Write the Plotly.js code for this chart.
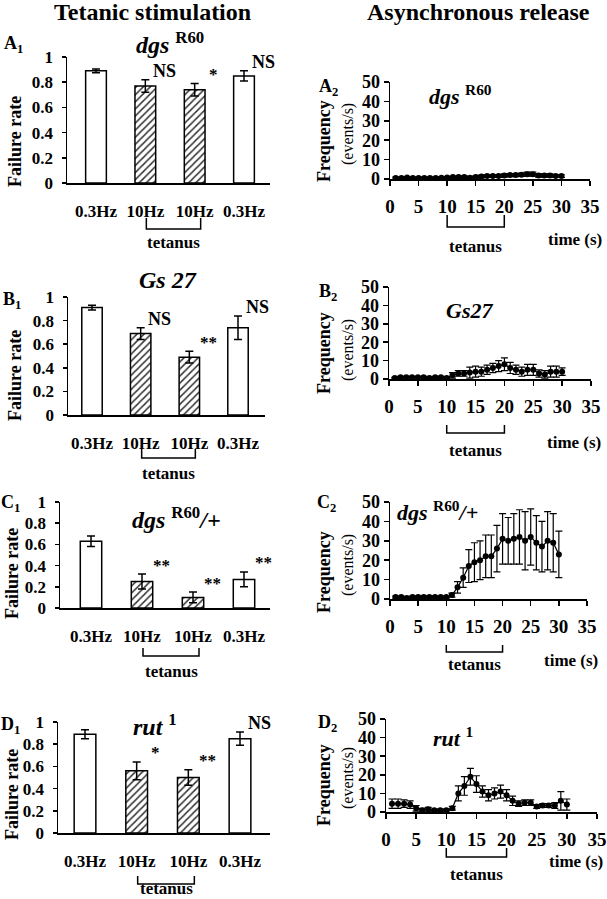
<!DOCTYPE html>
<html><head><meta charset="utf-8">
<script src="https://cdn.plot.ly/plotly-3.0.1.min.js"></script>
<style>html,body{margin:0;padding:0;background:#fff}</style>
</head><body><div id="chart" style="width:607px;height:899px"></div>
<script>
// ---------------- data ----------------
const barLabels = ['0.3Hz', '10Hz', '10Hz', '0.3Hz'];
const barPattern = ['', '/', '/', ''];
const tetanusBars = [1, 2];

const dgsFail = [0.89, 0.77, 0.74, 0.85];
const dgsFailErr = [0.015, 0.05, 0.05, 0.04];
const dgsSig = ['', 'NS', '*', 'NS'];

const gsFail = [0.91, 0.69, 0.49, 0.74];
const gsFailErr = [0.02, 0.05, 0.05, 0.10];
const gsSig = ['', 'NS', '**', 'NS'];

const hetFail = [0.63, 0.25, 0.10, 0.27];
const hetFailErr = [0.05, 0.07, 0.05, 0.07];
const hetSig = ['', '**', '**', '**'];

const rutFail = [0.89, 0.56, 0.50, 0.85];
const rutFailErr = [0.04, 0.08, 0.07, 0.06];
const rutSig = ['', '*', '**', 'NS'];

const timeS = [1,2,3,4,5,6,7,8,9,10,11,12,13,14,15,16,17,18,19,20,21,22,23,24,25,26,27,28,29,30];
const dgsFreq    = [0.5,0.5,0.8,0.5,0.5,0.5,0.5,0.5,0.6,0.8,1.0,1.0,1.0,0.7,1.0,1.3,1.5,1.5,1.5,1.8,2.0,2.0,2.2,2.5,2.5,1.8,1.8,1.8,1.5,1.5];
const dgsFreqErr = [0.5,0.5,0.5,0.5,0.5,0.5,0.5,0.5,0.5,0.5,0.5,0.5,0.6,0.6,0.6,0.7,0.7,0.7,0.7,0.8,0.8,0.8,0.9,1.0,1.0,0.8,0.8,0.8,0.7,0.7];
const gsFreq     = [0.5,1,1,1,1,1,0.5,1,1,0.5,2,3,3,3.5,4,4,5,6,7,8,6,5,4,5,5,3,2.5,4,4,4];
const gsFreqErr  = [0.4,0.4,0.4,0.4,0.4,0.4,0.4,0.4,0.4,0.4,1.5,1.5,1.5,3,3,2.5,2.5,2.5,3,3.5,3,2.5,2.5,3,3,2,2,3,3,2];
const hetFreq    = [1,1,0.5,1,1,1,1,1,1,1,2,6,11,17,19,20,22,22,26,31,30,31,32,30,32,29,27,30,29,23];
const hetFreqErr = [0.5,0.5,0.5,0.5,0.5,0.5,0.5,0.5,0.5,0.5,1,3,5,8.5,10,10,11,11,12,13,12,13,14,15,14.5,14,13,15,15,12];
const rutFreq    = [4.5,4.5,4.5,4,2,1,1.5,1,1,1,2,10,14,19,15,11,9,10,11,9,6,4.5,5,5,3,3.5,3.5,3.5,6,4];
const rutFreqErr = [2.5,2.5,2,2,1.5,1,1,0.5,0.5,0.5,1,4,5,4.5,4.5,3,3,3,3.5,3,2.5,1.5,1.5,1.5,1,1,1,1.5,5,3];
const tetanusTime = [10, 20];

// ---------------- layout helpers ----------------
const W = 607, H = 899;
const FONT = 'Liberation Serif, Times New Roman, serif';
const px = v => v / W;
const py = v => 1 - v / H;

const leftPanels = [
  {name:'A', fail:dgsFail, err:dgsFailErr, sig:dgsSig, gene:'<b><i>dgs</i> <sup>R60</sup></b>',
   x0:67, x1:270, top:57, bottom:183, c0:96, c3:244, label:[13,44], geneXY:[170,43], ytitle:[15,142],
   brTop:218, brBot:229, tet:242},
  {name:'B', fail:gsFail, err:gsFailErr, sig:gsSig, gene:'<b><i>Gs 27</i></b>',
   x0:68, x1:265, top:297, bottom:415, c0:92, c3:238, label:[12,301], geneXY:[168,280], ytitle:[15,376],
   brTop:449, brBot:458, tet:473},
  {name:'C', fail:hetFail, err:hetFailErr, sig:hetSig, gene:'<b><i>dgs</i> <sup>R60</sup><i>/+</i></b>',
   x0:60, x1:270, top:502, bottom:608, c0:91, c3:244, label:[10,503], geneXY:[176,518], ytitle:[12,574],
   brTop:648, brBot:656, tet:671},
  {name:'D', fail:rutFail, err:rutFailErr, sig:rutSig, gene:'<b><i>rut</i> <sup>1</sup></b>',
   x0:58, x1:270, top:722, bottom:833, c0:85, c3:240, label:[10,725], geneXY:[155,725], ytitle:[12,795],
   brTop:876, brBot:884, tet:888}
];
const rightPanels = [
  {name:'A', f:dgsFreq, e:dgsFreqErr, gene:'<b><i>dgs</i> <sup>R60</sup></b>',
   x0:390, x1:590, top:82, bottom:179, label:[328,88], geneXY:[460,95], yt:[324,141], yt2:[348,134],
   brTop:215, brBot:227, tet:246, time:[575,240]},
  {name:'B', f:gsFreq, e:gsFreqErr, gene:'<b><i>Gs27</i></b>',
   x0:389, x1:591, top:287, bottom:379, label:[328,292], geneXY:[469,311], yt:[324,353], yt2:[348,350],
   brTop:425, brBot:433, tet:450, time:[574,442]},
  {name:'C', f:hetFreq, e:hetFreqErr, gene:'<b><i>dgs</i> <sup>R60</sup><i>/+</i></b>',
   x0:390, x1:587, top:502, bottom:599, label:[326,503], geneXY:[437,511], yt:[324,572], yt2:[348,565],
   brTop:645, brBot:652, tet:664, time:[571,660]},
  {name:'D', f:rutFreq, e:rutFreqErr, gene:'<b><i>rut</i> <sup>1</sup></b>',
   x0:386, x1:597, top:719, bottom:812, label:[327,723], geneXY:[453,737], yt:[324,785], yt2:[348,778],
   brTop:848, brBot:857, tet:874, time:[576,861]}
];

const data = [];
const layout = {
  width: W, height: H, margin: {l:0, r:0, t:0, b:0},
  paper_bgcolor: '#fff', plot_bgcolor: 'rgba(0,0,0,0)',
  showlegend: false, font: {family: FONT, color: '#000'},
  annotations: [], shapes: []
};

function ann(text, x, y, size, extra) {
  layout.annotations.push(Object.assign({
    text: text, x: px(x), y: py(y), xref: 'paper', yref: 'paper',
    xanchor: 'center', yanchor: 'middle', showarrow: false,
    font: {family: FONT, size: size, color: '#000'}
  }, extra || {}));
}
function bracket(xa, xb, top, bot) {
  layout.shapes.push({type: 'path', xref: 'paper', yref: 'paper',
    path: `M ${px(xa)},${py(top)} L ${px(xa)},${py(bot)} L ${px(xb)},${py(bot)} L ${px(xb)},${py(top)}`,
    line: {color: '#000', width: 1.5}});
}

ann('<b>Tetanic stimulation</b>', 152, 12, 24);
ann('<b>Asynchronous release</b>', 478, 12, 24);

leftPanels.forEach((p, k) => {
  const n = 2 * k + 1;
  const xa = 'x' + n, ya = 'y' + n;
  const s = (p.c3 - p.c0) / 3;
  const toPx = i => p.c0 + i * s;
  data.push({
    type: 'bar', x: [0, 1, 2, 3], y: p.fail, xaxis: xa, yaxis: ya, width: 0.42,
    marker: {color: '#fff', line: {color: '#000', width: 1.5},
      pattern: {shape: barPattern, fgcolor: '#333', bgcolor: '#fff', size: 5, solidity: 0.3}},
    error_y: {type: 'data', array: p.err, visible: true, color: '#000', thickness: 1.5, width: 4}
  });
  layout['xaxis' + n] = {
    domain: [px(p.x0), px(p.x1)], anchor: ya, range: [(p.x0 - p.c0) / s, (p.x1 - p.c0) / s],
    showline: true, linecolor: '#000', linewidth: 1.5, ticks: '', showgrid: false, zeroline: false,
    tickvals: [0, 1, 2, 3], ticktext: barLabels, ticklabelstandoff: 12,
    tickfont: {family: FONT, size: 17, color: '#000', weight: 'bold'}
  };
  layout['yaxis' + n] = {
    domain: [py(p.bottom), py(p.top)], anchor: xa, range: [0, 1], dtick: 0.2,
    showline: true, linecolor: '#000', linewidth: 1.5, ticks: 'outside', ticklen: 4, tickwidth: 1.5,
    tickcolor: '#000', showgrid: false, zeroline: false, ticklabelstandoff: 5,
    tickfont: {family: FONT, size: 17, color: '#000', weight: 'bold'}
  };
  p.sig.forEach((t, i) => {
    if (!t) return;
    layout.annotations.push({text: '<b>' + t + '</b>', x: i, y: p.fail[i] + p.err[i], xref: xa, yref: ya,
      xanchor: 'center', yanchor: 'middle', xshift: 19, yshift: 9, showarrow: false,
      font: {family: FONT, size: t === 'NS' ? 18 : 17, color: '#000'}});
  });
  ann('<b>' + p.name + '<sub>1</sub></b>', p.label[0], p.label[1], 18);
  ann(p.gene, p.geneXY[0], p.geneXY[1], 24);
  ann('<b>Failure rate</b>', p.ytitle[0], p.ytitle[1], 18, {textangle: -90});
  const bx0 = toPx(tetanusBars[0]) + 1, bx1 = toPx(tetanusBars[1]) + 6;
  bracket(bx0, bx1, p.brTop, p.brBot);
  ann('<b>tetanus</b>', (bx0 + bx1) / 2, p.tet, 17);
});

rightPanels.forEach((p, k) => {
  const n = 2 * k + 2;
  const xa = 'x' + n, ya = 'y' + n;
  data.push({
    type: 'scatter', mode: 'lines+markers', x: timeS, y: p.f, xaxis: xa, yaxis: ya, cliponaxis: false,
    marker: {color: '#000', size: 6}, line: {color: '#000', width: 1.2},
    error_y: {type: 'data', array: p.e, visible: true, color: '#000', thickness: 1.2, width: 3.5}
  });
  layout['xaxis' + n] = {
    domain: [px(p.x0), px(p.x1)], anchor: ya, range: [0, 35], dtick: 5,
    showline: true, linecolor: '#000', linewidth: 1.5, ticks: 'outside', ticklen: 5, tickwidth: 1.5,
    tickcolor: '#000', showgrid: false, zeroline: false, ticklabelstandoff: 5,
    tickfont: {family: FONT, size: 19, color: '#000', weight: 'bold'}
  };
  layout['yaxis' + n] = {
    domain: [py(p.bottom), py(p.top)], anchor: xa, range: [0, 50], dtick: 10,
    showline: true, linecolor: '#000', linewidth: 1.5, ticks: 'outside', ticklen: 5, tickwidth: 1.5,
    tickcolor: '#000', showgrid: false, zeroline: false,
    tickfont: {family: FONT, size: 18, color: '#000', weight: 'bold'}
  };
  const sx = (p.x1 - p.x0) / 35;
  const bx0 = p.x0 + tetanusTime[0] * sx, bx1 = p.x0 + tetanusTime[1] * sx;
  bracket(bx0, bx1, p.brTop, p.brBot);
  ann('<b>tetanus</b>', (bx0 + bx1) / 2, p.tet, 17);
  ann('<b>time (s)</b>', p.time[0], p.time[1], 17);
  ann('<b>' + p.name + '<sub>2</sub></b>', p.label[0], p.label[1], 18);
  ann(p.gene, p.geneXY[0], p.geneXY[1], 22);
  ann('<b>Frequency</b>', p.yt[0], p.yt[1], 18, {textangle: -90});
  ann('(events/s)', p.yt2[0], p.yt2[1], 16, {textangle: -90});
});

Plotly.newPlot('chart', data, layout, {staticPlot: true, displayModeBar: false});
</script></body></html>
